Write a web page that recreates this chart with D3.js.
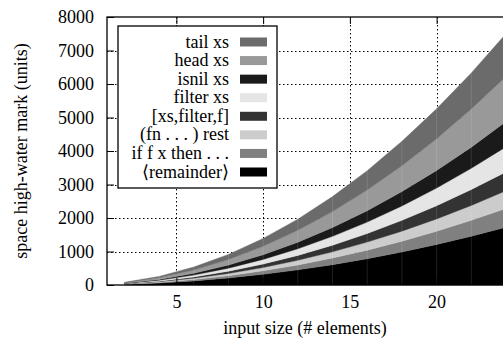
<!DOCTYPE html>
<html>
<head>
<meta charset="utf-8">
<script src="https://cdn.jsdelivr.net/npm/d3@7"></script>
<style>
  body { margin: 0; background: #fff; }
  text { font-family: "Liberation Serif", "DejaVu Serif", serif; fill: #000; }
</style>
</head>
<body>
<script>
var w = 503,
    h = 341;

// input sizes (x) and the stacked series, bottom to top
var sizes      = [2, 4, 6, 8, 10, 12, 14, 16, 18, 20, 22, 24];
var remainder  = [18, 59, 123, 210, 320, 452, 607, 785, 986, 1210, 1456, 1725];
var ifThen     = [6, 19, 40, 69, 104, 147, 198, 256, 322, 394, 475, 563];
var fnRest     = [6, 18, 38, 64, 97, 138, 185, 239, 300, 368, 443, 525];
var xsFilter   = [6, 19, 40, 69, 104, 147, 198, 256, 322, 394, 475, 563];
var filterXs   = [8, 26, 54, 91, 139, 197, 264, 341, 429, 526, 633, 750];
var isnilXs    = [8, 26, 54, 91, 139, 197, 264, 341, 429, 526, 633, 750];
var headXs     = [14, 46, 96, 165, 250, 354, 475, 615, 772, 947, 1140, 1350];
var tailXs     = [14, 44, 91, 155, 236, 334, 449, 580, 729, 894, 1076, 1275];

var seriesNames  = ["⟨remainder⟩", "if f x then . . .", "(fn . . . ) rest", "[xs,filter,f]",
                    "filter xs", "isnil xs", "head xs", "tail xs"];
var seriesColors = ["#000000", "#808080", "#cccccc", "#333333",
                    "#e5e5e5", "#1a1a1a", "#999999", "#6b6b6b"];
var seriesData   = [remainder, ifThen, fnRest, xsFilter, filterXs, isnilXs, headXs, tailXs];

var xTicks = [5, 10, 15, 20];
var yTicks = [0, 1000, 2000, 3000, 4000, 5000, 6000, 7000, 8000];

var pLeft = 107, pRight = 506, pTop = 17, pBottom = 285;

var x = d3.scaleLinear().domain([1, 24]).range([pLeft, pRight]);
var y = d3.scaleLinear().domain([0, 8000]).range([pBottom, pTop]);

var svg = d3.select("body").append("svg")
    .attr("width", w)
    .attr("height", h);

var rows = sizes.map(function(n, i) {
  var r = { n: n };
  seriesData.forEach(function(s, k) { r["s" + k] = s[i]; });
  return r;
});
var keys = seriesData.map(function(s, k) { return "s" + k; });
var stacked = d3.stack().keys(keys)(rows);

// grid (dotted)
svg.append("g").selectAll("line")
    .data(yTicks.slice(1, -1))
  .enter().append("line")
    .attr("x1", pLeft).attr("x2", pRight)
    .attr("y1", function(d) { return Math.round(y(d)) + 0.5; })
    .attr("y2", function(d) { return Math.round(y(d)) + 0.5; })
    .attr("stroke", "#000").attr("stroke-width", 1)
    .attr("stroke-dasharray", "1.5,2.5");
svg.append("g").selectAll("line")
    .data(xTicks)
  .enter().append("line")
    .attr("y1", pTop).attr("y2", pBottom)
    .attr("x1", function(d) { return Math.round(x(d)) + 0.5; })
    .attr("x2", function(d) { return Math.round(x(d)) + 0.5; })
    .attr("stroke", "#000").attr("stroke-width", 1)
    .attr("stroke-dasharray", "1.5,2.5");

// stacked areas
var area = d3.area()
    .x(function(d) { return x(d.data.n); })
    .y0(function(d) { return y(d[0]); })
    .y1(function(d) { return y(d[1]); });

svg.append("g").selectAll("path")
    .data(stacked)
  .enter().append("path")
    .attr("d", area)
    .attr("fill", function(d, i) { return seriesColors[i]; })
    .attr("stroke", function(d, i) { return seriesColors[i]; })
    .attr("stroke-width", 0.4);

// faint seams at data points
svg.append("g").selectAll("line")
    .data(sizes.slice(1, -1))
  .enter().append("line")
    .attr("x1", function(d) { return x(d); })
    .attr("x2", function(d) { return x(d); })
    .attr("y1", pBottom)
    .attr("y2", function(d, i) { return y(stacked[7][i + 1][1]); })
    .attr("stroke", "#fff").attr("stroke-opacity", 0.12).attr("stroke-width", 1);

// border
svg.append("rect")
    .attr("x", pLeft).attr("y", pTop)
    .attr("width", pRight - pLeft).attr("height", pBottom - pTop)
    .attr("fill", "none").attr("stroke", "#000").attr("stroke-width", 1.3);

// axes: ticks inward, mirrored
var xAxis = d3.axisBottom(x).tickValues(xTicks).tickSize(-7).tickPadding(10);
var gx = svg.append("g").attr("transform", "translate(0," + pBottom + ")").call(xAxis);
var gxTop = svg.append("g").attr("transform", "translate(0," + pTop + ")")
    .call(d3.axisTop(x).tickValues(xTicks).tickSize(-7).tickFormat(""));
var yAxis = d3.axisLeft(y).tickValues(yTicks).tickSize(-7).tickPadding(13)
    .tickFormat(d3.format("d"));
var gy = svg.append("g").attr("transform", "translate(" + pLeft + ",0)").call(yAxis);

[gx, gxTop, gy].forEach(function(g) {
  g.select(".domain").remove();
  g.selectAll("line").attr("stroke", "#000");
  g.selectAll("text").style("font-family", "'Liberation Serif', serif").style("font-size", "18px");
});

svg.append("text")
    .attr("x", 305).attr("y", 334)
    .attr("text-anchor", "middle")
    .style("font-size", "18px")
    .text("input size (# elements)");

svg.append("text")
    .attr("transform", "translate(27," + ((pTop + pBottom) / 2) + ") rotate(-90)")
    .attr("text-anchor", "middle")
    .style("font-size", "18px")
    .text("space high-water mark (units)");

// legend
var legend = svg.append("g");
legend.append("rect")
    .attr("x", 118).attr("y", 26)
    .attr("width", 159).attr("height", 162)
    .attr("fill", "#fff").attr("stroke", "#000").attr("stroke-width", 1.3);

var legendOrder = d3.range(seriesNames.length).reverse();
var ly = d3.scalePoint().domain(legendOrder).range([42, 172]);

var item = legend.selectAll("g.item")
    .data(legendOrder)
  .enter().append("g");
item.append("text")
    .attr("x", 229)
    .attr("y", function(d) { return ly(d) + 5.5; })
    .attr("text-anchor", "end")
    .style("font-size", "18px")
    .text(function(d) { return seriesNames[d]; });
item.append("rect")
    .attr("x", 240).attr("width", 27)
    .attr("y", function(d) { return ly(d) - 4.5; })
    .attr("height", 9)
    .attr("fill", function(d) { return seriesColors[d]; });
</script>
</body>
</html>
